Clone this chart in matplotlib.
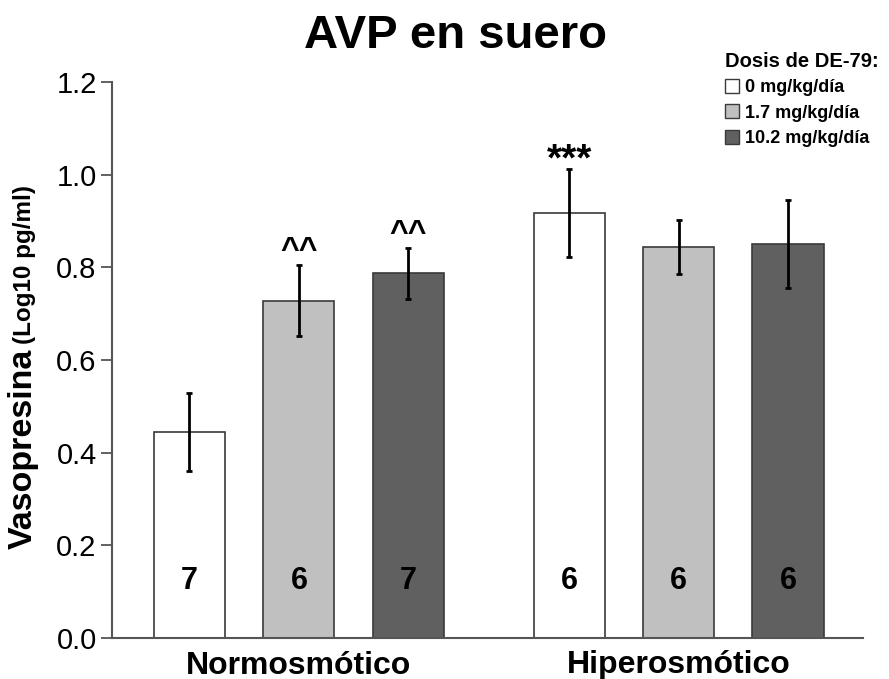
import matplotlib
matplotlib.use("Agg")
import matplotlib.pyplot as plt
from matplotlib.patches import Patch
import numpy as np

plt.rcParams["font.family"] = ["Liberation Sans", "DejaVu Sans"]

# datos
grupos = ["Normosmótico", "Hiperosmótico"]
dosis = ["0 mg/kg/día", "1.7 mg/kg/día", "10.2 mg/kg/día"]
medias = [[0.445, 0.728, 0.787], [0.917, 0.844, 0.851]]
errores = [[0.084, 0.077, 0.055], [0.095, 0.058, 0.095]]
n_sujetos = [[7, 6, 7], [6, 6, 6]]
marcas = [["", "^^", "^^"], ["***", "", ""]]
colores = ["#ffffff", "#c0c0c0", "#606060"]

fig = plt.figure(figsize=(8.89, 6.79), dpi=100)
ax = fig.add_axes([112 / 889, 41 / 679, 751 / 889, 556 / 679])

paso_grupo = 3.47
ancho = 0.65
for g in range(len(grupos)):
    for d in range(len(dosis)):
        x = g * paso_grupo + d
        m = medias[g][d]
        e = errores[g][d]
        ax.bar(x, m, width=ancho, color=colores[d], edgecolor="#3a3a3a",
               linewidth=1.2, zorder=2)
        ax.errorbar(x, m, yerr=e, color="black", elinewidth=2, capsize=2,
                    capthick=2, zorder=3)
        ax.text(x, 0.106, str(n_sujetos[g][d]), ha="center", va="baseline",
                fontsize=22, fontweight="bold")
        if marcas[g][d] == "^^":
            ax.text(x, m + e + 0.012, "^^", ha="center", va="baseline",
                    fontsize=23, fontweight="bold")
        elif marcas[g][d]:
            ax.text(x, m + e - 0.003, marcas[g][d], ha="center", va="baseline",
                    fontsize=28, fontweight="bold")

ax.set_xlim(-0.708, paso_grupo + 2 + 0.685)
ax.set_ylim(0, 1.2)
ax.set_yticks(np.arange(0, 1.21, 0.2))
ax.set_yticklabels([f"{v:.1f}" for v in np.arange(0, 1.21, 0.2)], fontsize=21)
ax.set_xticks([g * paso_grupo + 1 for g in range(len(grupos))])
ax.set_xticklabels(grupos, fontsize=23, fontweight="bold")
ax.tick_params(axis="x", length=0, pad=9)
ax.tick_params(axis="y", length=8, width=1.3, color="#555555", pad=3)
for lado in ["top", "right"]:
    ax.spines[lado].set_visible(False)
for lado in ["left", "bottom"]:
    ax.spines[lado].set_color("#555555")
    ax.spines[lado].set_linewidth(1.5)

fig.text(456 / 889, 1 - 48 / 679, "AVP en suero", ha="center", va="baseline",
         fontsize=34, fontweight="bold")

# etiqueta del eje y en dos tamaños
fig.text(0.026, 1 - 549 / 679, "Vasopresina", rotation=90, ha="center",
         va="bottom", fontsize=24.5, fontweight="bold")
fig.text(0.028, 1 - 344 / 679, "(Log10 pg/ml)", rotation=90, ha="center",
         va="bottom", fontsize=17.5, fontweight="bold")

manijas = [Patch(facecolor=c, edgecolor="#3a3a3a", linewidth=1) for c in colores]
leg = fig.legend(manijas, dosis, loc="upper left",
                 bbox_to_anchor=(725 / 889, 1 - 52 / 679), frameon=False,
                 prop={"size": 13, "weight": "bold"}, title="Dosis de DE-79:",
                 title_fontproperties={"size": 14.5, "weight": "bold"},
                 alignment="left", handlelength=0.8, handleheight=0.8,
                 handletextpad=0.3, labelspacing=0.45, borderpad=0,
                 borderaxespad=0)

fig.savefig("out.png", dpi=100)
